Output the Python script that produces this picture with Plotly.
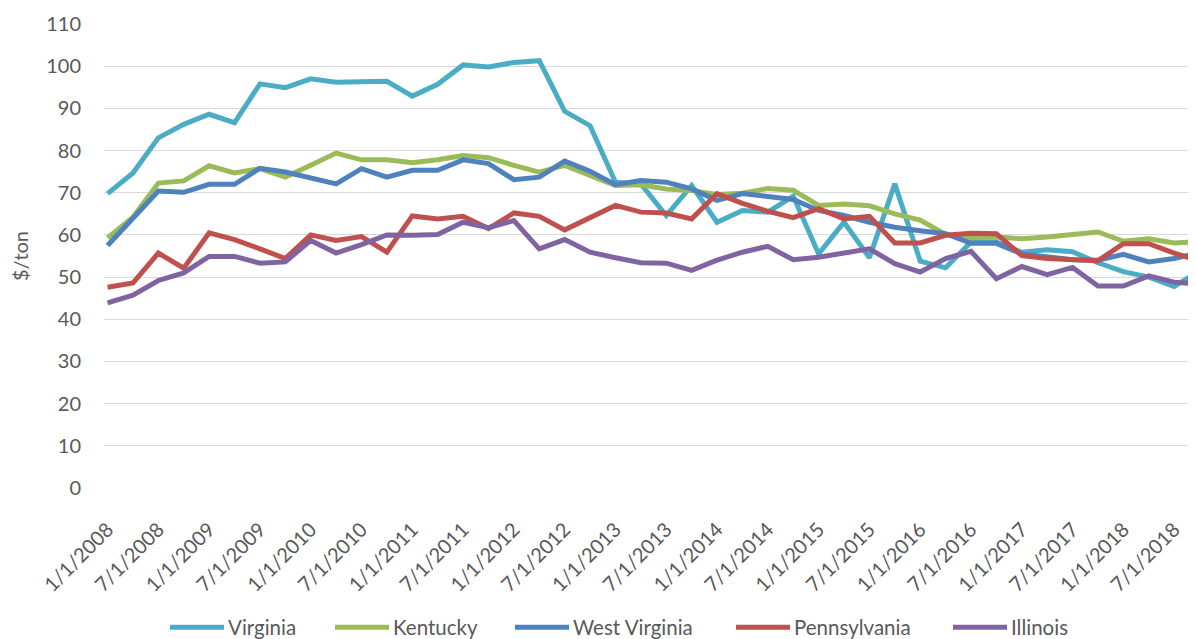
import plotly.graph_objects as go

dates = [
    "1/1/2008", "4/1/2008", "7/1/2008", "10/1/2008",
    "1/1/2009", "4/1/2009", "7/1/2009", "10/1/2009",
    "1/1/2010", "4/1/2010", "7/1/2010", "10/1/2010",
    "1/1/2011", "4/1/2011", "7/1/2011", "10/1/2011",
    "1/1/2012", "4/1/2012", "7/1/2012", "10/1/2012",
    "1/1/2013", "4/1/2013", "7/1/2013", "10/1/2013",
    "1/1/2014", "4/1/2014", "7/1/2014", "10/1/2014",
    "1/1/2015", "4/1/2015", "7/1/2015", "10/1/2015",
    "1/1/2016", "4/1/2016", "7/1/2016", "10/1/2016",
    "1/1/2017", "4/1/2017", "7/1/2017", "10/1/2017",
    "1/1/2018", "4/1/2018", "7/1/2018", "10/1/2018",
]
tick_labels = dates[::2]

virginia = [69.8, 74.7, 83.0, 86.2, 88.6, 86.6, 95.8, 94.9, 97.0, 96.2, 96.3, 96.4,
            92.9, 95.7, 100.3, 99.8, 100.9, 101.3, 89.3, 85.9, 72.5, 72.1, 64.6, 71.7,
            63.0, 65.8, 65.4, 69.2, 55.5, 63.0, 54.6, 72.1, 53.8, 52.2, 58.3, 58.3,
            55.9, 56.5, 56.0, 53.4, 51.3, 50.0, 47.8, 51.5]
kentucky = [59.3, 64.2, 72.3, 72.8, 76.4, 74.7, 75.7, 73.7, 76.5, 79.4, 77.8, 77.8,
            77.1, 77.8, 78.8, 78.3, 76.5, 74.9, 76.5, 74.1, 71.7, 71.9, 70.9, 70.5,
            69.6, 69.9, 71.0, 70.6, 67.0, 67.3, 66.9, 65.0, 63.5, 60.1, 59.3, 59.5,
            59.1, 59.5, 60.1, 60.7, 58.5, 59.1, 58.1, 58.4]
west_virginia = [57.5, 63.8, 70.4, 70.1, 72.0, 72.0, 75.8, 74.9, 73.5, 72.1, 75.7, 73.7,
                 75.3, 75.3, 77.8, 76.9, 73.1, 73.7, 77.5, 75.1, 71.9, 72.9, 72.5, 70.9,
                 68.2, 69.8, 69.1, 68.4, 65.8, 64.6, 63.0, 61.8, 61.0, 60.3, 58.0, 58.0,
                 55.5, 54.7, 54.1, 54.0, 55.4, 53.6, 54.4, 55.8]
pennsylvania = [47.6, 48.6, 55.7, 52.1, 60.5, 58.9, 56.7, 54.4, 60.0, 58.7, 59.6, 55.9,
                64.5, 63.8, 64.4, 61.5, 65.2, 64.4, 61.2, 64.1, 67.0, 65.4, 65.2, 63.8,
                69.8, 67.5, 65.6, 64.1, 66.2, 63.8, 64.4, 58.1, 58.1, 59.9, 60.4, 60.3,
                55.1, 54.4, 54.1, 53.9, 57.9, 57.9, 55.7, 53.8]
illinois = [43.9, 45.7, 49.2, 51.0, 54.9, 54.9, 53.3, 53.6, 58.7, 55.7, 57.7, 60.0,
            59.9, 60.1, 63.0, 61.7, 63.4, 56.7, 58.9, 55.9, 54.6, 53.4, 53.3, 51.6,
            54.0, 55.9, 57.3, 54.1, 54.7, 55.7, 56.7, 53.2, 51.2, 54.4, 56.1, 49.6,
            52.5, 50.6, 52.3, 47.9, 47.9, 50.3, 48.8, 48.3]

series_names = ["Virginia", "Kentucky", "West Virginia", "Pennsylvania", "Illinois"]
series_values = [virginia, kentucky, west_virginia, pennsylvania, illinois]
colors = ["#4BACC6", "#9BBB59", "#4F81BD", "#C0504D", "#8064A2"]

FONT = "Lato, 'Open Sans', sans-serif"
GRAY = "#595959"

# the page body has an 8px margin, so the figure is drawn 8px in from the window corner
BODY = 8
W, H = 1196 - BODY, 639 - BODY
ML, MR, MT, MB = 104 - BODY, 0, 23.5 - BODY, 151.3
PW, PH = W - ML - MR, H - MT - MB

fig = go.Figure()
for name, vals, col in zip(series_names, series_values, colors):
    fig.add_trace(go.Scatter(
        x=dates, y=vals, name=name, mode="lines",
        line=dict(color=col, width=5),
        showlegend=False,
        hovertemplate="%{x}: %{y}<extra>" + name + "</extra>",
    ))

# custom legend (line swatch + text), positioned in window pixels below the plot
legend_line_px = [170, 335, 515, 736, 953]
legend_y_px = 627

def px_x(p):
    return (p - BODY - ML) / PW

def px_y(p):
    return (H - MB - (p - BODY)) / PH

shapes = []
annotations = []
for name, col, x0 in zip(series_names, colors, legend_line_px):
    shapes.append(dict(type="line", xref="paper", yref="paper",
                       x0=px_x(x0), x1=px_x(x0 + 54), y0=px_y(legend_y_px), y1=px_y(legend_y_px),
                       line=dict(color=col, width=5)))
    annotations.append(dict(text=name, xref="paper", yref="paper",
                            x=px_x(x0 + 56), y=px_y(legend_y_px),
                            xanchor="left", yanchor="middle", showarrow=False,
                            font=dict(family=FONT, size=20.5, color=GRAY)))

fig.update_layout(
    width=W, height=H,
    margin=dict(l=ML, r=MR, t=MT, b=MB, pad=0),
    paper_bgcolor="white", plot_bgcolor="white",
    font=dict(family=FONT, size=20, color=GRAY),
    shapes=shapes, annotations=annotations,
    showlegend=False,
)
fig.update_xaxes(
    type="category", range=[-0.14, 42.86],
    tickmode="array", tickvals=tick_labels, ticktext=tick_labels,
    tickangle=-45, tickfont=dict(family=FONT, size=20, color=GRAY),
    showgrid=False, zeroline=False, showline=False, ticks="",
    ticklabelstandoff=25,
)
fig.update_yaxes(
    range=[0, 110], tickmode="linear", tick0=0, dtick=10,
    showgrid=True, gridcolor="#D9D9D9", gridwidth=1.4,
    zeroline=False, showline=False, ticks="",
    tickfont=dict(family=FONT, size=20, color=GRAY),
    ticklabelstandoff=22,
    title=dict(text="$/ton", font=dict(family=FONT, size=20, color=GRAY), standoff=14),
)

fig.write_html("out.html")
